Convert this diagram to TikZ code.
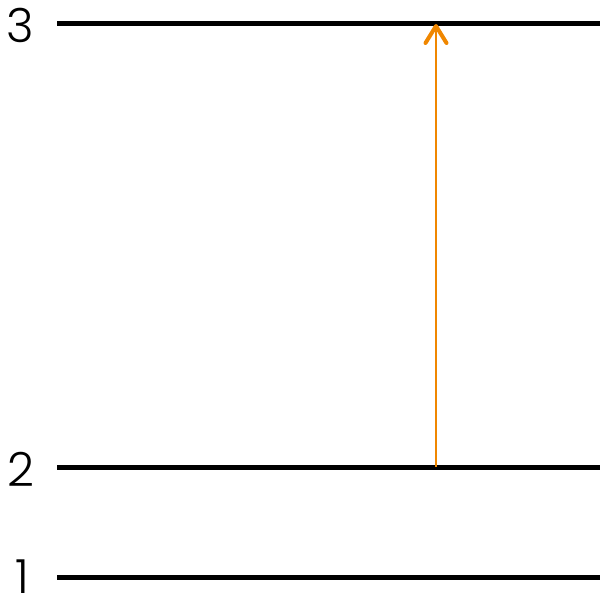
\documentclass[tikz,border=0pt]{standalone}
\usepackage{fontspec}
\setmainfont{Poppins}[UprightFont=* Light]
\usepackage{xcolor}
\usepackage{tikz}
\usetikzlibrary{arrows.meta, positioning}
\definecolor{transorange}{RGB}{240,135,0}

\begin{document}
\begin{tikzpicture}[x=1pt, y=-1pt,
        level/.style={line width=5pt},
        lbl/.style={font=\fontsize{47}{47}\selectfont, inner sep=0pt},
        trans/.style={draw=transorange, line width=2pt,
            -{Straight Barb[length=17pt, width=21pt, line width=4pt, round]}}]
        \useasboundingbox (0,0) rectangle (600,597);

        \node[lbl] (n3) at (20,25) {3};
        \node[lbl] (n2) at (21,469) {2};
        \node[lbl] (n1) at (22,577) {1};

        \coordinate (l3a) at (57,23);  \coordinate (l3b) at (600,23);
        \coordinate (l2a) at (57,467); \coordinate (l2b) at (600,467);
        \coordinate (l1a) at (57,577); \coordinate (l1b) at (600,577);

        \draw[level] (l3a) -- (l3b);
        \draw[level] (l2a) -- (l2b);
        \draw[level] (l1a) -- (l1b);

        \coordinate (up2) at (436,467);
        \coordinate (up3) at (436,24);
        \draw[trans] (up2) -- (up3);
    \end{tikzpicture}
\end{document}
